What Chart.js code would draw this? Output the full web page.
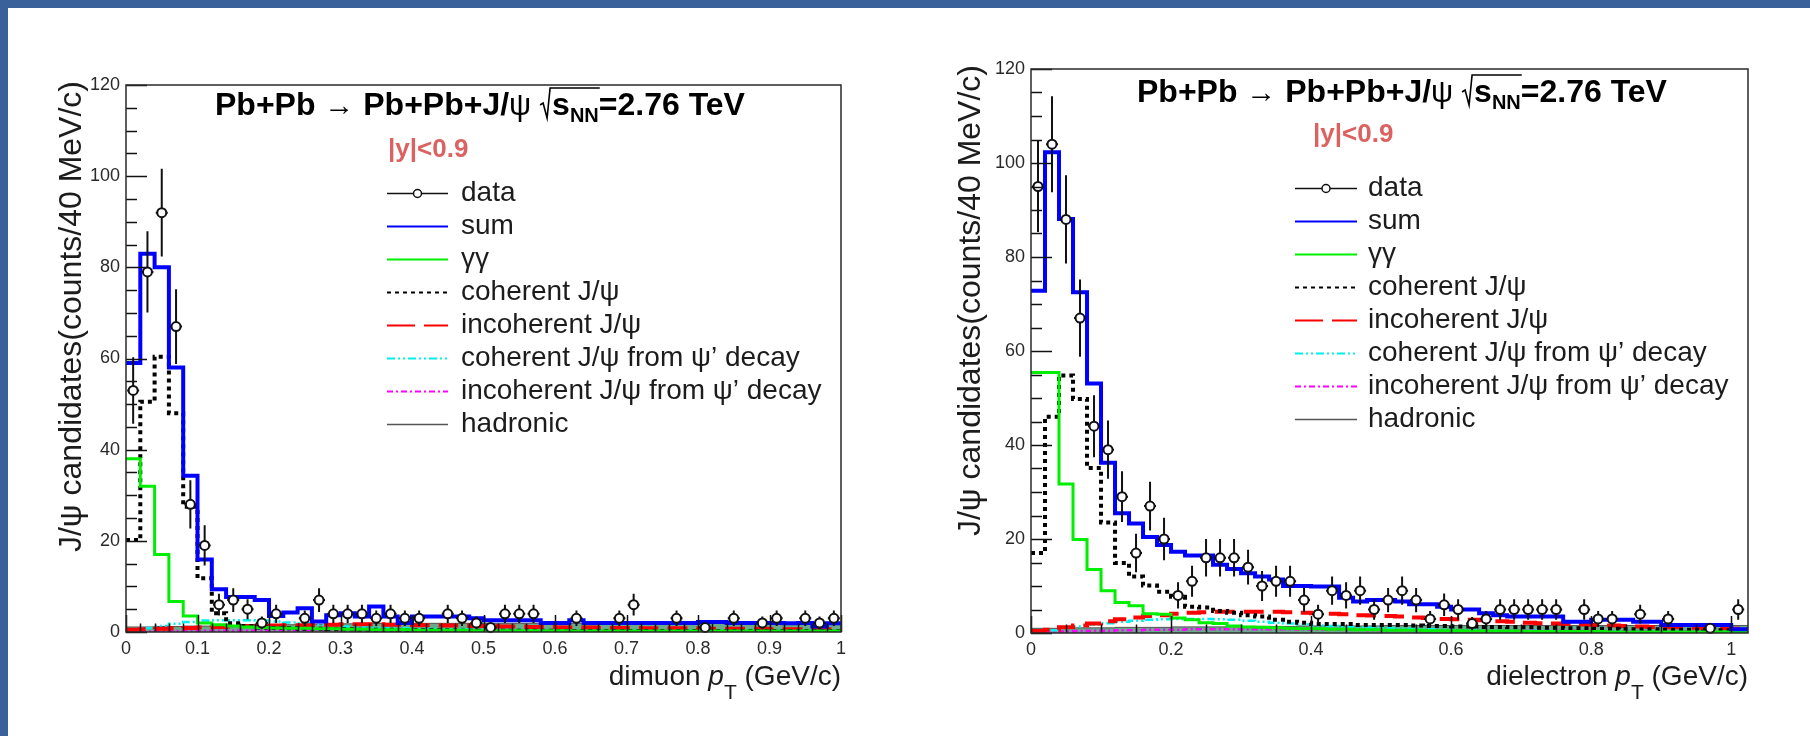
<!DOCTYPE html>
<html>
<head>
<meta charset="utf-8">
<script src="https://cdn.jsdelivr.net/npm/chart.js@4.4.1/dist/chart.umd.min.js"></script>
<style>
  html, body { margin: 0; padding: 0; background: #fff; }
  body { width: 1810px; height: 736px; position: relative; overflow: hidden; }
  canvas { position: absolute; top: 0; }
  #dimuon { left: 0; }
  #dielectron { left: 905px; }
  .band-top { position: absolute; left: 0; top: 0; width: 1810px; height: 8px; background: #3a6199; }
  .band-left { position: absolute; left: 0; top: 0; width: 8px; height: 736px; background: #3a6199; }
</style>
</head>
<body>
<canvas id="dimuon" width="905" height="736"></canvas>
<canvas id="dielectron" width="905" height="736"></canvas>
<div class="band-top"></div>
<div class="band-left"></div>
<script>
// pT spectra of exclusive J/psi candidates, histograms in 20 MeV/c bins
const BIN_WIDTH = 0.02;

const yTicks = [0, 20, 40, 60, 80, 100, 120];
const xTicksMu = [0, 0.1, 0.2, 0.3, 0.4, 0.5, 0.6, 0.7, 0.8, 0.9, 1];
const xTicksEE = [0, 0.2, 0.4, 0.6, 0.8, 1];

const legendLabels = [
  "data", "sum", "γγ", "coherent J/ψ", "incoherent J/ψ",
  "coherent J/ψ from ψ’ decay", "incoherent J/ψ from ψ’ decay", "hadronic"
];

// ---- dimuon channel (50 bins, 0 - 1 GeV/c)
const muSum = [
  59, 83, 80, 58, 34.3, 15.9, 9.4, 7.7, 7.7, 7.0,
  3.5, 4.3, 5.2, 2.3, 3.7, 4.1, 3.4, 5.6, 3.4, 2.0,
  3.4, 3.4, 3.4, 3.4, 3.0, 2.6, 2.6, 2.6, 2.6, 2.0,
  2.0, 2.6, 2.0, 2.0, 2.0, 2.0, 2.0, 2.0, 2.0, 2.0,
  2.2, 2.2, 2.0, 2.0, 2.0, 2.0, 1.9, 2.0, 1.2, 1.9
];
const muGammaGamma = [
  38, 32, 17, 6.7, 3.5, 2.0, 1.6, 1.3, 1.1, 1.0,
  0.9, 0.8, 0.8, 0.7, 0.7, 0.6, 0.6, 0.5, 0.5, 0.5,
  0.4, 0.4, 0.4, 0.4, 0.3, 0.3, 0.3, 0.3, 0.3, 0.3,
  0.3, 0.2, 0.2, 0.2, 0.2, 0.2, 0.2, 0.2, 0.2, 0.2,
  0.2, 0.2, 0.2, 0.2, 0.2, 0.2, 0.2, 0.2, 0.2, 0.2
];
const muCoherent = [
  20.2, 50.5, 60.4, 48, 27.5, 11.8, 4.1, 1.9, 1.3, 1.0,
  0.9, 0.8, 0.7, 0.7, 0.6, 0.6, 0.5, 0.5, 0.5, 0.4,
  0.4, 0.4, 0.4, 0.3, 0.3, 0.3, 0.3, 0.3, 0.3, 0.3,
  0.2, 0.2, 0.2, 0.2, 0.2, 0.2, 0.2, 0.2, 0.2, 0.2,
  0.2, 0.2, 0.2, 0.2, 0.2, 0.2, 0.2, 0.2, 0.2, 0.2
];
const muIncoherent = [
  0.5, 0.6, 0.7, 0.8, 0.9, 1.0, 1.1, 1.2, 1.3, 1.3,
  1.4, 1.5, 1.5, 1.6, 1.6, 1.7, 1.7, 1.7, 1.6, 1.6,
  1.5, 1.5, 1.4, 1.4, 1.3, 1.3, 1.2, 1.2, 1.1, 1.1,
  1.0, 1.0, 1.0, 0.9, 0.9, 0.9, 0.8, 0.8, 0.8, 0.8,
  0.7, 0.7, 0.7, 0.7, 0.7, 0.6, 0.6, 0.6, 0.6, 0.6
];
const muCohPsi2S = [
  0.6, 0.9, 1.3, 1.8, 2.2, 2.5, 2.6, 2.6, 2.6, 2.5,
  2.3, 2.1, 1.9, 1.6, 1.4, 1.2, 1.1, 1.0, 0.9, 0.8,
  0.7, 0.7, 0.6, 0.6, 0.5, 0.5, 0.5, 0.4, 0.4, 0.4,
  0.4, 0.3, 0.3, 0.3, 0.3, 0.3, 0.3, 0.3, 0.3, 0.3,
  0.3, 0.3, 0.3, 0.3, 0.3, 0.3, 0.3, 0.3, 0.3, 0.3
];
const muIncohPsi2S = [
  0.1, 0.1, 0.2, 0.2, 0.2, 0.3, 0.3, 0.3, 0.3, 0.3,
  0.4, 0.4, 0.4, 0.4, 0.4, 0.4, 0.4, 0.4, 0.4, 0.4,
  0.4, 0.4, 0.4, 0.4, 0.4, 0.4, 0.4, 0.4, 0.4, 0.4,
  0.3, 0.3, 0.3, 0.3, 0.3, 0.3, 0.3, 0.3, 0.3, 0.3,
  0.3, 0.3, 0.3, 0.3, 0.3, 0.3, 0.3, 0.3, 0.3, 0.3
];
const muHadronic = [
  1.1, 1.1, 1.2, 1.2, 1.3, 1.3, 1.4, 1.4, 1.5, 1.5,
  1.6, 1.6, 1.7, 1.7, 1.8, 1.8, 1.9, 1.9, 1.9, 1.9,
  1.9, 1.9, 1.9, 1.9, 1.9, 1.9, 1.9, 1.9, 1.9, 1.9,
  1.9, 1.9, 1.9, 1.9, 1.9, 1.9, 1.9, 1.9, 1.9, 1.9,
  1.9, 1.9, 1.9, 1.9, 1.9, 1.9, 1.9, 1.9, 1.9, 1.9
];
const muData = [
  53, 79, 92, 67, 28, 19, 6, 7, 5, 2,
  4, null, 3, 7, 4, 4, 4, 3, 4, 3,
  3, null, 4, 3, 2, 1, 4, 4, 4, null,
  null, 3, null, null, 3, 6, null, null, 3, null,
  1, null, 3, null, 2, 3, null, 3, 2, 3
];
const muDataErr = [
  7.3, 8.9, 9.6, 8.2, 5.3, 4.4, 2.4, 2.6, 2.2, 1.4,
  2.0, null, 1.7, 2.6, 2.0, 2.0, 2.0, 1.7, 2.0, 1.7,
  1.7, null, 2.0, 1.7, 1.4, 1.0, 2.0, 2.0, 2.0, null,
  null, 1.7, null, null, 1.7, 2.4, null, null, 1.7, null,
  1.0, null, 1.7, null, 1.4, 1.7, null, 1.7, 1.4, 1.7
];

// ---- dielectron channel (52 bins, 0 - 1.04 GeV/c)
const eeSum = [
  72.8, 102.3, 88.1, 72.5, 53.1, 36.2, 25.5, 23.3, 20.4, 18.7,
  17.3, 16.5, 16.5, 14.5, 13.6, 12.7, 12.0, 11.4, 10.0, 10.0,
  9.9, 9.9, 7.5, 6.7, 7.0, 7.0, 6.7, 6.1, 6.1, 5.6,
  5.0, 5.0, 4.2, 3.8, 3.5, 3.5, 3.5, 3.5, 2.4, 2.4,
  2.8, 2.8, 2.8, 2.4, 2.4, 1.7, 1.7, 1.7, 1.7, 1.7,
  0.8, 0.8
];
const eeGammaGamma = [
  55.4, 55.4, 31.7, 19.9, 13.5, 9.0, 6.5, 5.8, 4.1, 4.0,
  3.2, 2.8, 2.2, 2.0, 1.5, 1.3, 1.2, 1.1, 1.0, 0.9,
  0.9, 0.8, 0.8, 0.7, 0.7, 0.6, 0.6, 0.6, 0.5, 0.5,
  0.5, 0.4, 0.4, 0.4, 0.4, 0.3, 0.3, 0.3, 0.3, 0.3,
  0.3, 0.2, 0.2, 0.2, 0.2, 0.2, 0.2, 0.2, 0.2, 0.2,
  0.2, 0.2
];
const eeCoherent = [
  17.0, 46.0, 54.8, 49.8, 35.1, 23.5, 14.9, 12.0, 10.1, 8.8,
  7.7, 5.6, 5.4, 4.7, 4.3, 3.8, 3.5, 2.8, 2.4, 2.2,
  1.9, 1.9, 1.9, 1.7, 1.7, 1.7, 1.7, 1.6, 1.5, 1.5,
  1.4, 1.4, 1.3, 1.3, 1.2, 1.2, 1.1, 1.1, 1.0, 1.0,
  0.9, 0.9, 0.8, 0.8, 0.8, 0.7, 0.7, 0.7, 0.6, 0.6,
  0.6, 0.6
];
const eeIncoherent = [
  0.4, 0.7, 1.2, 1.6, 2.0, 2.5, 2.9, 3.3, 3.6, 3.8,
  4.1, 4.3, 4.4, 4.5, 4.5, 4.5, 4.5, 4.5, 4.4, 4.3,
  4.2, 4.1, 4.0, 3.8, 3.7, 3.6, 3.5, 3.3, 3.2, 3.0,
  2.9, 2.8, 2.7, 2.5, 2.4, 2.2, 2.1, 2.0, 1.9, 1.8,
  1.7, 1.6, 1.5, 1.4, 1.3, 1.2, 1.2, 1.1, 1.0, 1.0,
  0.9, 0.9
];
const eeCohPsi2S = [
  0.3, 0.6, 1.0, 1.4, 1.8, 2.1, 2.4, 2.6, 2.8, 2.9,
  3.0, 3.0, 3.0, 2.9, 2.8, 2.6, 2.4, 2.2, 2.0, 1.8,
  1.6, 1.5, 1.3, 1.2, 1.1, 1.0, 0.9, 0.8, 0.8, 0.7,
  0.6, 0.6, 0.5, 0.5, 0.4, 0.4, 0.4, 0.3, 0.3, 0.3,
  0.3, 0.3, 0.2, 0.2, 0.2, 0.2, 0.2, 0.2, 0.2, 0.2,
  0.2, 0.2
];
const eeIncohPsi2S = [
  0.1, 0.2, 0.3, 0.4, 0.5, 0.5, 0.6, 0.6, 0.7, 0.7,
  0.7, 0.8, 0.8, 0.8, 0.8, 0.8, 0.8, 0.8, 0.8, 0.7,
  0.7, 0.7, 0.7, 0.7, 0.6, 0.6, 0.6, 0.6, 0.6, 0.5,
  0.5, 0.5, 0.5, 0.5, 0.4, 0.4, 0.4, 0.4, 0.4, 0.4,
  0.3, 0.3, 0.3, 0.3, 0.3, 0.3, 0.3, 0.3, 0.2, 0.2,
  0.2, 0.2
];
const eeHadronic = [
  1.0, 1.0, 1.0, 1.1, 1.1, 1.1, 1.2, 1.2, 1.2, 1.2,
  1.3, 1.3, 1.3, 1.3, 1.4, 1.4, 1.4, 1.4, 1.4, 1.5,
  1.5, 1.5, 1.5, 1.5, 1.5, 1.6, 1.6, 1.6, 1.6, 1.6,
  1.6, 1.6, 1.6, 1.6, 1.6, 1.6, 1.6, 1.6, 1.6, 1.6,
  1.6, 1.6, 1.6, 1.6, 1.6, 1.6, 1.6, 1.6, 1.6, 1.6,
  1.6, 1.6
];
const eeData = [
  95, 104, 88, 67, 44, 39, 29, 17, 27, 20,
  8, 11, 16, 16, 16, 14, 10, 11, 11, 7,
  4, 9, 8, 9, 5, 7, 9, 7, 3, 6,
  5, 2, 3, 5, 5, 5, 5, 5, null, 5,
  3, 3, null, 4, null, 3, null, null, 1, null,
  5, null
];
const eeDataErr = [
  9.7, 10.2, 9.4, 8.2, 6.6, 6.2, 5.4, 4.1, 5.2, 4.5,
  2.8, 3.3, 4.0, 4.0, 4.0, 3.7, 3.2, 3.3, 3.3, 2.6,
  2.0, 3.0, 2.8, 3.0, 2.2, 2.6, 3.0, 2.6, 1.7, 2.4,
  2.2, 1.4, 1.7, 2.2, 2.2, 2.2, 2.2, 2.2, null, 2.2,
  1.7, 1.7, null, 2.0, null, 1.7, null, null, 1.0, null,
  2.2, null
];

const FONT = '"Liberation Sans", Arial, Helvetica, sans-serif';
const TEXT = '#1c1c1c';

// line looks shared by the plot and the legend
const styles = {
  sum:      { color: '#0000ff', width: 4,   dash: [] },
  gg:       { color: '#00ee00', width: 3,   dash: [] },
  coh:      { color: '#000000', width: 4,   dash: [4, 4] },
  incoh:    { color: '#ff0000', width: 4,   dash: [20, 9] },
  cohPsi:   { color: '#00f0f0', width: 2.5, dash: [8, 3, 2, 3, 2, 3] },
  incohPsi: { color: '#ff00ff', width: 2.5, dash: [6, 3, 2, 3] },
  had:      { color: '#555555', width: 1,   dash: [] }
};

function histPoints(values) {
  const pts = values.map((v, i) => ({ x: i * BIN_WIDTH, y: v }));
  pts.push({ x: values.length * BIN_WIDTH, y: values[values.length - 1] });
  return pts;
}

function dataPoints(values, errs) {
  const pts = [];
  values.forEach((v, i) => {
    if (v !== null) pts.push({ x: (i + 0.5) * BIN_WIDTH, y: v, err: errs[i] });
  });
  return pts;
}

function histSet(label, values, st) {
  return {
    label, data: histPoints(values), stepped: true, tension: 0,
    borderColor: st.color, borderWidth: st.width, borderDash: st.dash,
    borderCapStyle: 'butt', borderJoinStyle: 'miter',
    pointRadius: 0, fill: false, clip: 0
  };
}

// draws consecutive text pieces, returns the x where the last one ends
function put(ctx, text, font, x, y) {
  ctx.font = font;
  ctx.fillText(text, x, y);
  return x + ctx.measureText(text).width;
}

function drawTitle(ctx, x, y) {
  const B = s => `bold ${s}px ${FONT}`;
  const R = s => `${s}px ${FONT}`;
  ctx.fillStyle = '#000';
  ctx.textAlign = 'left';
  ctx.textBaseline = 'alphabetic';
  x = put(ctx, 'Pb+Pb ', B(32), x, y);
  x = put(ctx, '→', R(30), x, y);
  x = put(ctx, ' Pb+Pb+J/', B(32), x, y);
  x = put(ctx, 'ψ', R(31), x, y);
  x = put(ctx, ' ', B(32), x, y);
  // square root sign with the bar running over s_NN
  const rx = x;
  x = put(ctx, 's', B(32), rx + 12, y);
  x = put(ctx, 'NN', B(20), x, y + 7);
  ctx.strokeStyle = '#000';
  ctx.lineWidth = 1.6;
  ctx.beginPath();
  ctx.moveTo(rx, y - 10);
  ctx.lineTo(rx + 3, y - 12);
  ctx.lineTo(rx + 7, y + 3);
  ctx.lineTo(rx + 10, y - 27);
  ctx.lineTo(x + 1, y - 27);
  ctx.stroke();
  put(ctx, '=2.76 TeV', B(32), x, y);
}

function drawXTitle(ctx, right, y, word) {
  const parts = [
    { t: word + ' ', f: `28px ${FONT}`, dy: 0 },
    { t: 'p', f: `italic 28px ${FONT}`, dy: 0 },
    { t: 'T', f: `21px ${FONT}`, dy: 14 },
    { t: ' (GeV/c)', f: `28px ${FONT}`, dy: 0 }
  ];
  let w = 0;
  parts.forEach(p => { ctx.font = p.f; w += ctx.measureText(p.t).width; });
  let x = right - w;
  ctx.fillStyle = TEXT;
  ctx.textAlign = 'left';
  ctx.textBaseline = 'alphabetic';
  parts.forEach(p => { x = put(ctx, p.t, p.f, x, y + p.dy); });
}

function panelDecor(o) {
  return {
    id: 'panelDecor',
    // error bars go in just before the open markers
    beforeDatasetDraw(chart, args) {
      if (args.index !== 0) return;
      const { ctx, chartArea: a, scales: { x, y } } = chart;
      ctx.save();
      ctx.beginPath();
      ctx.rect(a.left, a.top, a.width, a.height);
      ctx.clip();
      ctx.strokeStyle = '#111';
      ctx.lineWidth = 2;
      chart.data.datasets[0].data.forEach(p => {
        const px = x.getPixelForValue(p.x);
        const py = y.getPixelForValue(p.y);
        ctx.beginPath();
        ctx.moveTo(px, y.getPixelForValue(p.y - p.err));
        ctx.lineTo(px, y.getPixelForValue(p.y + p.err));
        ctx.moveTo(px - 6, py);
        ctx.lineTo(px + 6, py);
        ctx.stroke();
      });
      ctx.restore();
    },
    // frame and inward tick marks
    afterDatasetsDraw(chart) {
      const { ctx, chartArea: a, scales: { x, y } } = chart;
      ctx.save();
      ctx.strokeStyle = '#111';
      ctx.lineWidth = 1.5;
      ctx.beginPath();
      const xMajor = o.xTicks;
      for (let v = 0; v <= o.xMax + 1e-9; v += o.xMinor) {
        const val = Math.round(v * 1000) / 1000;
        const major = xMajor.some(t => Math.abs(t - val) < 1e-6);
        const px = Math.round(x.getPixelForValue(val)) + 0.5;
        ctx.moveTo(px, a.bottom);
        ctx.lineTo(px, a.bottom - (major ? 17 : 8.5));
      }
      for (let v = 0; v <= 120; v += 5) {
        const major = v % 20 === 0;
        const py = Math.round(y.getPixelForValue(v)) + 0.5;
        ctx.moveTo(a.left, py);
        ctx.lineTo(a.left + (major ? 21 : 11), py);
      }
      ctx.stroke();
      ctx.strokeStyle = '#2a2a2a';
      ctx.strokeRect(a.left, a.top, a.width, a.height);
      ctx.restore();
    },
    // titles, rapidity cut and legend
    afterDraw(chart) {
      const { ctx, chartArea: a } = chart;
      ctx.save();
      drawTitle(ctx, o.titleAt[0], o.titleAt[1]);

      ctx.fillStyle = '#dc6262';
      ctx.font = `bold 26px ${FONT}`;
      ctx.fillText('|y|<0.9', o.cutAt[0], o.cutAt[1]);

      ctx.save();
      ctx.translate(o.yTitleX, a.top - 4);
      ctx.rotate(-Math.PI / 2);
      ctx.textAlign = 'right';
      ctx.fillStyle = TEXT;
      ctx.font = `32px ${FONT}`;
      ctx.fillText('J/ψ candidates(counts/40 MeV/c)', 0, 0);
      ctx.restore();

      drawXTitle(ctx, a.right, o.xTitleY, o.xWord);

      const [l0, l1, tx, y0] = o.legendAt;
      const keys = [null, 'sum', 'gg', 'coh', 'incoh', 'cohPsi', 'incohPsi', 'had'];
      legendLabels.forEach((label, i) => {
        const ly = y0 + 33 * i + 0.5;
        ctx.beginPath();
        if (i === 0) {
          ctx.strokeStyle = '#111';
          ctx.lineWidth = 1.5;
          ctx.setLineDash([]);
          ctx.moveTo(l0, ly);
          ctx.lineTo(l1, ly);
          ctx.stroke();
          ctx.beginPath();
          ctx.fillStyle = '#fff';
          ctx.arc((l0 + l1) / 2, ly, 4, 0, Math.PI * 2);
          ctx.fill();
          ctx.stroke();
        } else {
          const st = styles[keys[i]];
          ctx.strokeStyle = st.color;
          ctx.lineWidth = keys[i] === 'had' ? 1.5 : 2;
          ctx.setLineDash(keys[i] === 'incoh' ? [28, 9] : st.dash);
          ctx.moveTo(l0, ly);
          ctx.lineTo(l1, ly);
          ctx.stroke();
        }
        ctx.setLineDash([]);
        ctx.fillStyle = TEXT;
        ctx.font = `28px ${FONT}`;
        ctx.textAlign = 'left';
        ctx.textBaseline = 'middle';
        ctx.fillText(label, tx, ly);
        ctx.textBaseline = 'alphabetic';
      });
      ctx.restore();
    }
  };
}

function buildPanel(o) {
  const datasets = [
    {
      label: 'data', data: dataPoints(o.data, o.err), showLine: false,
      pointRadius: 4.5, pointBackgroundColor: '#fff',
      pointBorderColor: '#111', pointBorderWidth: 2, clip: false
    },
    histSet('sum', o.sum, styles.sum),
    histSet('γγ', o.gg, styles.gg),
    histSet('coherent', o.coh, styles.coh),
    histSet('incoherent', o.incoh, styles.incoh),
    histSet('coherent from psi(2S)', o.cohPsi, styles.cohPsi),
    histSet('incoherent from psi(2S)', o.incohPsi, styles.incohPsi),
    Object.assign(histSet('hadronic', o.had, styles.had), {
      fill: 'origin', backgroundColor: 'rgb(104, 170, 138)'
    })
  ];

  new Chart(document.getElementById(o.id), {
    type: 'line',
    data: { datasets },
    options: {
      responsive: false,
      animation: false,
      events: [],
      layout: { padding: { left: 0, top: o.area.top, right: o.area.right, bottom: 0 } },
      plugins: { legend: { display: false }, tooltip: { enabled: false } },
      scales: {
        x: {
          type: 'linear', min: 0, max: o.xMax,
          afterBuildTicks: s => { s.ticks = o.xTicks.map(v => ({ value: v })); },
          afterFit: s => { s.height = o.area.bottom; },
          grid: { display: false, drawTicks: false },
          border: { display: false },
          ticks: {
            autoSkip: false, maxRotation: 0, padding: 6, color: '#2a2a2a',
            font: { family: FONT, size: 18 }, callback: v => String(v)
          }
        },
        y: {
          type: 'linear', min: 0, max: 120,
          afterBuildTicks: s => { s.ticks = yTicks.map(v => ({ value: v })); },
          afterFit: s => { s.width = o.area.left; },
          grid: { display: false, drawTicks: false },
          border: { display: false },
          ticks: {
            padding: 6, color: '#2a2a2a',
            font: { family: FONT, size: 18 }, callback: v => String(v)
          }
        }
      }
    },
    plugins: [panelDecor(o)]
  });
}

buildPanel({
  id: 'dimuon', xMax: 1, xTicks: xTicksMu, xMinor: 0.02, xWord: 'dimuon',
  sum: muSum, gg: muGammaGamma, coh: muCoherent, incoh: muIncoherent,
  cohPsi: muCohPsi2S, incohPsi: muIncohPsi2S, had: muHadronic,
  data: muData, err: muDataErr,
  area: { top: 85, right: 64, bottom: 104, left: 126 },
  titleAt: [215, 115], cutAt: [388, 157], legendAt: [387, 448, 461, 193],
  yTitleX: 81, xTitleY: 685
});

buildPanel({
  id: 'dielectron', xMax: 1.024, xTicks: xTicksEE, xMinor: 0.05, xWord: 'dielectron',
  sum: eeSum, gg: eeGammaGamma, coh: eeCoherent, incoh: eeIncoherent,
  cohPsi: eeCohPsi2S, incohPsi: eeIncohPsi2S, had: eeHadronic,
  data: eeData, err: eeDataErr,
  area: { top: 69, right: 62, bottom: 103, left: 126 },
  titleAt: [232, 102], cutAt: [408, 142], legendAt: [390, 452, 463, 188],
  yTitleX: 75, xTitleY: 685
});
</script>
</body>
</html>
